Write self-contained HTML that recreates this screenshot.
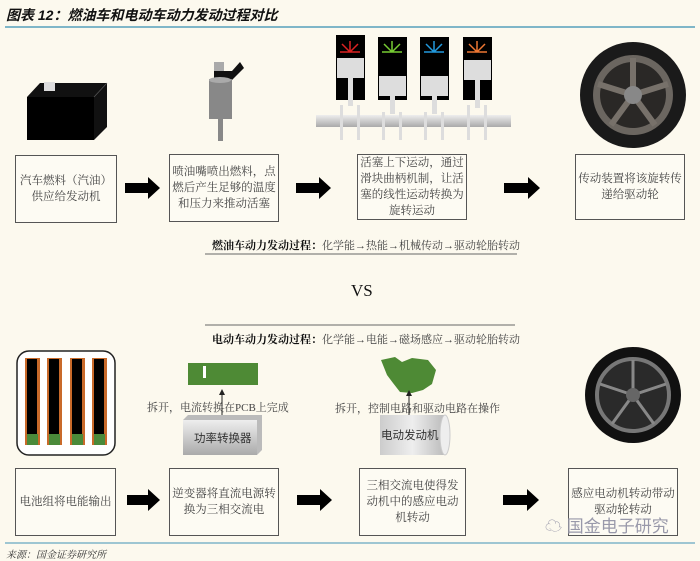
<!DOCTYPE html>
<html><head><meta charset="utf-8"><style>
body{margin:0;width:700px;height:554px;background:#fcf9ee;position:relative;overflow:hidden;font-family:"Liberation Serif","Noto Serif CJK SC",serif;color:#333}
.a{position:absolute}
.box{position:absolute;border:1.5px solid #555;background:#fdfbf3;display:flex;align-items:center;justify-content:center;text-align:center;font-size:11.5px;line-height:16px;color:#444;box-sizing:border-box;padding:0;white-space:nowrap}
.t{position:absolute;font-size:11.5px;white-space:nowrap;color:#444}
</style></head><body>
<div class="a" style="left:6px;top:5px;font-family:'Liberation Sans','Noto Sans CJK SC',sans-serif;font-weight:bold;font-style:italic;font-size:14px;color:#111">图表 12：燃油车和电动车动力发动过程对比</div>
<div class="a" style="left:5px;top:26px;width:690px;height:1.5px;background:#7fb6c8"></div>

<svg class="a" style="left:0;top:0" width="700" height="554">
<defs>
<linearGradient id="gr" x1="0" x2="1"><stop offset="0" stop-color="#ccc"/><stop offset="0.5" stop-color="#eee"/><stop offset="1" stop-color="#bbb"/></linearGradient>
<linearGradient id="gb" x1="0" y1="0" x2="0" y2="1"><stop offset="0" stop-color="#eee"/><stop offset="1" stop-color="#aaa"/></linearGradient>
</defs>
<polygon points="27,97 40,83 107,83 107,127 94,140 94,97" fill="#111"/>
<rect x="27" y="97" width="67" height="43" fill="#000"/>
<line x1="94" y1="97" x2="107" y2="83" stroke="#555" stroke-width="0.8"/>
<rect x="44" y="82" width="11" height="9" fill="#ddd"/>
<rect x="214" y="62" width="10" height="10" fill="#aaa"/>
<polygon points="214,71 232,71 240,62 244,68 232,80 214,80" fill="#111"/>
<rect x="209" y="79" width="23" height="40" fill="#888"/>
<ellipse cx="220" cy="80" rx="11" ry="3" fill="#aaa"/>
<rect x="218" y="119" width="5" height="22" fill="#888"/>
<rect x="316" y="115" width="195" height="12" fill="url(#gb)"/>
<g fill="#ddd">
<rect x="340" y="105" width="3" height="35"/><rect x="357" y="105" width="3" height="35"/>
<rect x="382" y="112" width="3" height="28"/><rect x="399" y="112" width="3" height="28"/>
<rect x="424" y="112" width="3" height="28"/><rect x="441" y="112" width="3" height="28"/>
<rect x="467" y="105" width="3" height="35"/><rect x="484" y="105" width="3" height="35"/>
</g>
<g>
<rect x="336" y="35" width="29" height="65" fill="#000"/><rect x="378" y="37" width="29" height="63" fill="#000"/>
<rect x="420" y="37" width="29" height="63" fill="#000"/><rect x="463" y="37" width="29" height="63" fill="#000"/>
<rect x="337" y="58" width="27" height="20" fill="#ddd"/><rect x="379" y="76" width="27" height="20" fill="#ddd"/>
<rect x="421" y="76" width="27" height="20" fill="#ddd"/><rect x="464" y="60" width="27" height="20" fill="#ddd"/>
<rect x="348" y="78" width="5" height="28" fill="#ddd"/><rect x="390" y="96" width="5" height="18" fill="#ddd"/>
<rect x="432" y="96" width="5" height="18" fill="#ddd"/><rect x="475" y="80" width="5" height="28" fill="#ddd"/>
<g stroke-width="1.5" fill="none">
<path d="M350,52 l-8,-8 M350,52 l0,-11 M350,52 l8,-8 M350,52 l10,0 M350,52 l-10,0" stroke="#d22"/>
<path d="M392,52 l-8,-8 M392,52 l0,-11 M392,52 l8,-8 M392,52 l10,0 M392,52 l-10,0" stroke="#7c3"/>
<path d="M434,52 l-8,-8 M434,52 l0,-11 M434,52 l8,-8 M434,52 l10,0 M434,52 l-10,0" stroke="#29d"/>
<path d="M477,52 l-8,-8 M477,52 l0,-11 M477,52 l8,-8 M477,52 l10,0 M477,52 l-10,0" stroke="#e73"/>
</g></g>
<circle cx="633" cy="95" r="53" fill="#1a1a1a"/>
<circle cx="633" cy="95" r="40" fill="#6b6660"/>
<circle cx="633" cy="95" r="33" fill="#2a2826"/>
<g stroke="#77716a" stroke-width="6"><line x1="633" y1="95" x2="633" y2="58"/><line x1="633" y1="95" x2="668" y2="84"/><line x1="633" y1="95" x2="655" y2="125"/><line x1="633" y1="95" x2="611" y2="125"/><line x1="633" y1="95" x2="598" y2="84"/></g>
<circle cx="633" cy="95" r="9" fill="#888"/>
<g fill="#000">
<polygon points="125,183 148,183 148,177 160,188 148,199 148,193 125,193"/>
<polygon points="296,183 319,183 319,177 331,188 319,199 319,193 296,193"/>
<polygon points="504,183 528,183 528,177 540,188 528,199 528,193 504,193"/>
<polygon points="127,495 148,495 148,489 160,500 148,511 148,505 127,505"/>
<polygon points="297,495 320,495 320,489 332,500 320,511 320,505 297,505"/>
<polygon points="503,495 527,495 527,489 539,500 527,511 527,505 503,505"/>
</g>
<line x1="205" y1="254" x2="517" y2="254" stroke="#666" stroke-width="1"/>
<line x1="205" y1="325" x2="515" y2="325" stroke="#666" stroke-width="1"/>
<rect x="17" y="351" width="98" height="104" rx="12" fill="#fff" stroke="#222" stroke-width="1.5"/>
<g><rect x="25" y="358" width="15" height="87" fill="#c96a2a"/><rect x="27" y="359" width="10" height="75" fill="#000"/><rect x="27" y="434" width="11" height="11" fill="#4a8a3a"/>
<rect x="47" y="358" width="15" height="87" fill="#c96a2a"/><rect x="49" y="359" width="10" height="75" fill="#000"/><rect x="49" y="434" width="11" height="11" fill="#4a8a3a"/>
<rect x="70" y="358" width="15" height="87" fill="#c96a2a"/><rect x="72" y="359" width="10" height="75" fill="#000"/><rect x="72" y="434" width="11" height="11" fill="#4a8a3a"/>
<rect x="92" y="358" width="15" height="87" fill="#c96a2a"/><rect x="94" y="359" width="10" height="75" fill="#000"/><rect x="94" y="434" width="11" height="11" fill="#4a8a3a"/></g>
<rect x="188" y="363" width="70" height="22" fill="#4e8a35"/>
<rect x="203" y="366" width="3" height="12" fill="#fff"/>
<line x1="222" y1="393" x2="222" y2="415" stroke="#222"/><polygon points="219,395 225,395 222,389" fill="#222"/>
<polygon points="183,420 188,415 262,415 262,450 257,455 183,455" fill="#bbb"/>
<rect x="183" y="420" width="74" height="35" fill="url(#gb)"/>
<path d="M381,360 L395,357 L402,362 L412,358 L428,360 L436,370 L432,384 L423,390 L412,393 L400,392 L393,383 L387,375 Z" fill="#4e8a35"/>
<line x1="409" y1="393" x2="409" y2="416" stroke="#222"/><polygon points="406,396 412,396 409,390" fill="#222"/>
<rect x="380" y="415" width="65" height="40" fill="url(#gr)"/>
<ellipse cx="445" cy="435" rx="5" ry="20" fill="#eee" stroke="#ccc"/>
<circle cx="633" cy="395" r="48" fill="#111"/>
<circle cx="633" cy="395" r="36" fill="#2a2a2a"/>
<circle cx="633" cy="395" r="36" fill="none" stroke="#777" stroke-width="4"/>
<g stroke="#888" stroke-width="3"><line x1="633" y1="395" x2="633" y2="360"/><line x1="633" y1="395" x2="666" y2="384"/><line x1="633" y1="395" x2="654" y2="424"/><line x1="633" y1="395" x2="612" y2="424"/><line x1="633" y1="395" x2="600" y2="384"/></g>
<circle cx="633" cy="395" r="7" fill="#666"/>
<line x1="5" y1="543" x2="695" y2="543" stroke="#7fb6c8" stroke-width="1.5"/>
</svg>

<div class="box" style="left:15px;top:155px;width:102px;height:68px">汽车燃料（汽油）<br>供应给发动机</div>
<div class="box" style="left:169px;top:154px;width:110px;height:68px">喷油嘴喷出燃料，点<br>燃后产生足够的温度<br>和压力来推动活塞</div>
<div class="box" style="left:357px;top:154px;width:110px;height:66px">活塞上下运动，通过<br>滑块曲柄机制，让活<br>塞的线性运动转换为<br>旋转运动</div>
<div class="box" style="left:575px;top:154px;width:110px;height:66px">传动装置将该旋转传<br>递给驱动轮</div>

<div class="t" style="left:212px;top:237px;font-size:11px"><b style="color:#111">燃油车动力发动过程：</b>化学能→热能→机械传动→驱动轮胎转动</div>
<div class="t" style="left:351px;top:281px;font-size:17px;color:#111">VS</div>
<div class="t" style="left:212px;top:331px;font-size:11px"><b style="color:#111">电动车动力发动过程：</b>化学能→电能→磁场感应→驱动轮胎转动</div>

<div class="t" style="left:147px;top:399px;font-size:11px">拆开，电流转换在PCB上完成</div>
<div class="t" style="left:335px;top:400px;font-size:11px">拆开，控制电路和驱动电路在操作</div>
<div class="t" style="left:194px;top:430px;font-family:'Liberation Sans','Noto Sans CJK SC',sans-serif;color:#333">功率转换器</div>
<div class="t" style="left:381px;top:427px;font-family:'Liberation Sans','Noto Sans CJK SC',sans-serif;color:#333">电动发动机</div>

<div class="box" style="left:15px;top:468px;width:101px;height:68px">电池组将电能输出</div>
<div class="box" style="left:169px;top:468px;width:110px;height:68px">逆变器将直流电源转<br>换为三相交流电</div>
<div class="box" style="left:359px;top:468px;width:107px;height:68px">三相交流电使得发<br>动机中的感应电动<br>机转动</div>
<div class="box" style="left:568px;top:468px;width:110px;height:68px">感应电动机转动带动<br>驱动轮转动</div>
<div class="t" style="left:545px;top:512px;font-size:17px;color:#99a;font-family:'Liberation Sans','Noto Sans CJK SC',sans-serif">☁ 国金电子研究</div>
<div class="t" style="left:6px;top:546px;font-size:10px;font-style:italic;color:#333">来源：国金证券研究所</div>
</body></html>
